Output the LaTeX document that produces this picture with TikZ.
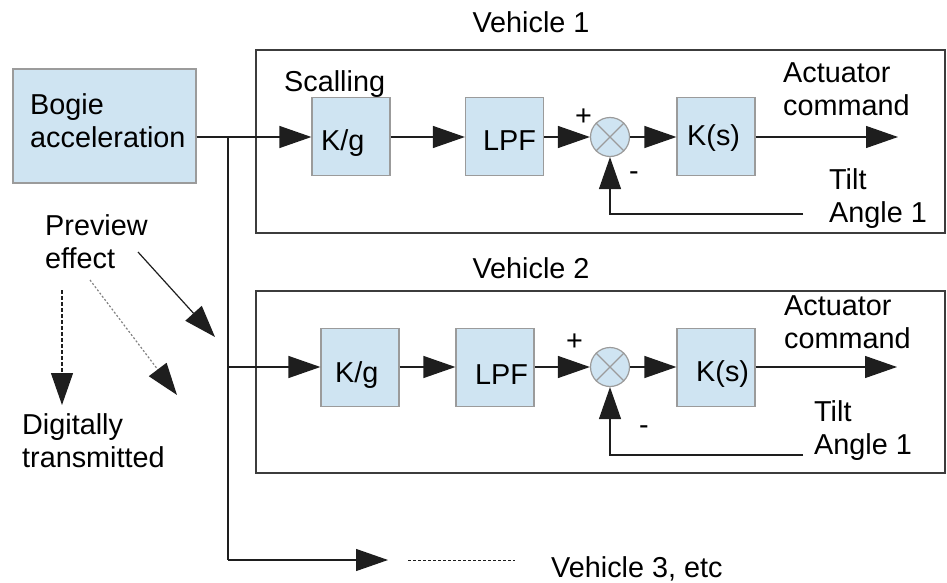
\documentclass[tikz,border=0pt]{standalone}
\usepackage{fontspec}
\setmainfont{Liberation Sans}
\usetikzlibrary{arrows.meta}
\definecolor{bfill}{RGB}{207,228,242}
\definecolor{bdraw}{RGB}{155,155,155}
\definecolor{ln}{RGB}{30,30,30}
\definecolor{fr}{RGB}{60,60,60}
\begin{document}
\begin{tikzpicture}[x=1pt,y=-1pt,
  font=\fontsize{28.8}{33}\selectfont,
  blk/.style={draw=bdraw, fill=bfill, line width=1.2pt, inner sep=0pt, minimum width=78pt, minimum height=78pt},
  sumnode/.style={circle, draw=bdraw, fill=bfill, line width=1.2pt, minimum size=39pt, inner sep=0pt},
  framebox/.style={draw=fr, line width=1.4pt},
  wire/.style={draw=ln, line width=1.2pt},
  ar/.style={wire, -{Triangle[length=32pt,width=22pt]}},
  lbl/.style={inner sep=0pt, anchor=base west},
  mlbl/.style={inner sep=0pt, anchor=base west, align=left}]
\useasboundingbox (0,0) rectangle (947,583);

% frames
\draw[framebox] (256,50) rectangle (945,233);
\draw[framebox] (256,291) rectangle (945,473);
\node[inner sep=0pt, anchor=base] (v1) at (531,33) {Vehicle 1};
\node[inner sep=0pt, anchor=base] (v2) at (531,278) {Vehicle 2};

% bogie
\node[blk, minimum width=183pt, minimum height=114pt] (bogie) at (104.5,126) {};
\node[mlbl] (bogietxt) at (30,147) {Bogie\\acceleration};

% row 1
\node[blk] (kg1) at (351,136.5) {};
\node[lbl] (kg1t) at (321,150) {K/g};
\node[lbl] (scal) at (284,92) {Scalling};
\node[blk] (lpf1) at (504.5,136.5) {};
\node[lbl] (lpf1t) at (483,150) {LPF};
\node[sumnode] (sum1) at (610,137) {};
\draw[bdraw, line width=1.2pt] (sum1.north west) -- (sum1.south east) (sum1.north east) -- (sum1.south west);
\node[blk] (ks1) at (716,136.5) {};
\node[lbl] (ks1t) at (687,146) {K(s)};
\node[lbl] (p1) at (575,125) {+};
\node[lbl] (m1) at (629,180) {-};
\node[mlbl] (act1) at (783,116) {Actuator\\command};
\node[mlbl] (tilt1t) at (829,222) {Tilt\\Angle 1};
\coordinate (out1) at (898,137);
\coordinate (fb1) at (803,214);

% row 2
\node[blk] (kg2) at (360,367.5) {};
\node[lbl] (kg2t) at (335,382) {K/g};
\node[blk] (lpf2) at (495,367.5) {};
\node[lbl] (lpf2t) at (475,384) {LPF};
\node[sumnode] (sum2) at (610,367) {};
\draw[bdraw, line width=1.2pt] (sum2.north west) -- (sum2.south east) (sum2.north east) -- (sum2.south west);
\node[blk] (ks2) at (716,367.5) {};
\node[lbl] (ks2t) at (696,381) {K(s)};
\node[lbl] (p2) at (566,350) {+};
\node[lbl] (m2) at (639,434) {-};
\node[mlbl] (act2) at (784,348) {Actuator\\command};
\node[mlbl] (tilt2t) at (814,454) {Tilt\\Angle 1};
\coordinate (out2) at (897,367);
\coordinate (fb2) at (803,455);

% trunk
\coordinate (j1) at (228,137);
\coordinate (j2) at (228,367);
\coordinate (j3) at (228,560);
\coordinate (out3) at (388,560);
\coordinate (d3a) at (408,560);
\coordinate (d3b) at (515,560);
\node[lbl] (v3) at (551,577) {Vehicle 3, etc};

\draw[wire] (bogie.east |- j1) -- (j1) -- (j3);
\draw[ar] (j1) -- (kg1.west |- j1);
\draw[ar] (kg1.east |- j1) -- (lpf1.west |- j1);
\draw[ar] (lpf1.east |- j1) -- (sum1.west);
\draw[ar] (sum1.east) -- (ks1.west |- sum1);
\draw[ar] (ks1.east |- out1) -- (out1);
\draw[ar] (fb1) -| (sum1.south);

\draw[ar] (j2) -- (kg2.west |- j2);
\draw[ar] (kg2.east |- j2) -- (lpf2.west |- j2);
\draw[ar] (lpf2.east |- j2) -- (sum2.west);
\draw[ar] (sum2.east) -- (ks2.west |- sum2);
\draw[ar] (ks2.east |- out2) -- (out2);
\draw[ar] (fb2) -| (sum2.south);

\draw[ar] (j3) -- (out3);
\draw[ln, line width=1pt, dash pattern=on 3pt off 2pt] (d3a) -- (d3b);

% left annotations
\node[mlbl] (prev) at (45,268) {Preview\\effect};
\node[mlbl] (digi) at (22,467) {Digitally\\transmitted};
\coordinate (s1a) at (138,252);
\coordinate (s1b) at (215,337);
\coordinate (s2a) at (90,280);
\coordinate (s2b) at (177,395);
\coordinate (s3a) at (62,290);
\coordinate (s3b) at (62,405);
\draw[ar] (s1a) -- (s1b);
\draw[wire, draw=gray, dash pattern=on 2pt off 2pt, -{Triangle[length=32pt,width=22pt,color=ln]}] (s2a) -- (s2b);
\draw[wire, dash pattern=on 4pt off 2pt, -{Triangle[length=32pt,width=22pt]}] (s3a) -- (s3b);
\end{tikzpicture}
\end{document}
